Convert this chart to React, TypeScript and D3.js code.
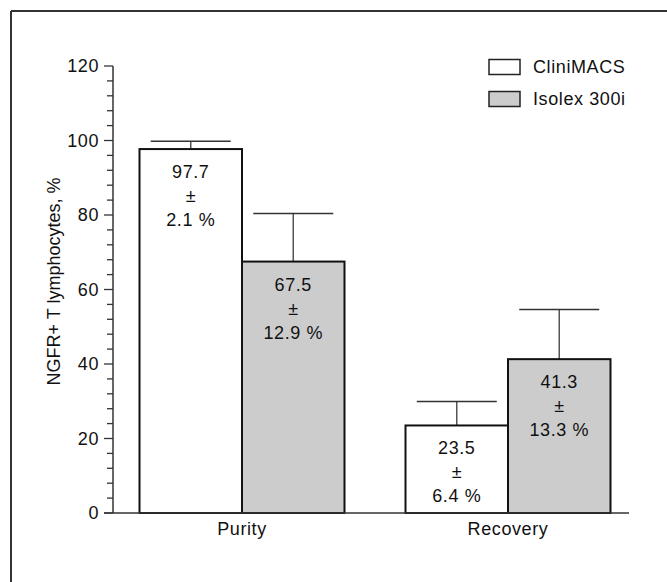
import React from "react";
import * as d3 from "d3";

const categories = ["Purity", "Recovery"];
const seriesNames = ["CliniMACS", "Isolex 300i"];
const cliniMeans = [97.7, 23.5];
const cliniSD = [2.1, 6.4];
const isolexMeans = [67.5, 41.3];
const isolexSD = [12.9, 13.3];
const yTicks = [0, 20, 40, 60, 80, 100, 120];
const yLabel = "NGFR+ T lymphocytes, %";

const W = 667;
const H = 582;
const FONT = "'Liberation Sans', Arial, Helvetica, sans-serif";
const FILLS = ["#ffffff", "#cccccc"];
const LS = 0.6;

export default function App() {
  const y = d3.scaleLinear().domain([0, 120]).range([513, 66]);
  const x0 = d3.scalePoint<string>().domain(categories).range([242, 508]);
  const x1 = d3.scaleBand<string>().domain(seriesNames).range([-102.5, 102.5]).padding(0);
  const minor = d3.range(0, 121, 4);
  const axisX = 113;

  const bars = categories.flatMap((c, i) => [
    { cat: c, s: seriesNames[0], v: cliniMeans[i], sd: cliniSD[i], fill: FILLS[0] },
    { cat: c, s: seriesNames[1], v: isolexMeans[i], sd: isolexSD[i], fill: FILLS[1] },
  ]);

  return (
    <svg
      width={W}
      height={H}
      style={{ position: "absolute", left: 0, top: 0, background: "#fff" }}
      fontFamily={FONT}
    >
      {/* frame */}
      <line x1={11} y1={11} x2={W} y2={11} stroke="#333" strokeWidth={2} />
      <line x1={11} y1={11} x2={11} y2={H} stroke="#333" strokeWidth={2} />

      {/* y axis */}
      <line x1={axisX} y1={y(120)} x2={axisX} y2={y(0)} stroke="#333" strokeWidth={1.5} />
      {minor.map((t) => (
        <line
          key={"m" + t}
          x1={axisX - (t % 20 === 0 ? 9 : 6)}
          x2={axisX}
          y1={y(t)}
          y2={y(t)}
          stroke="#333"
          strokeWidth={1.3}
        />
      ))}
      {yTicks.map((t) => (
        <text key={"t" + t} x={99} y={y(t)} textAnchor="end" dominantBaseline="central" fontSize={18} letterSpacing={LS} fill="#111">
          {t}
        </text>
      ))}
      <text
        transform={`translate(54,${(y(0) + y(120)) / 2 - 8}) rotate(-90)`}
        textAnchor="middle"
        dominantBaseline="central"
        fontSize={18}
        fill="#111"
      >
        {yLabel}
      </text>

      {/* bars */}
      {bars.map((b, i) => {
        const bx = (x0(b.cat) as number) + (x1(b.s) as number);
        const bw = x1.bandwidth();
        const cx = bx + bw / 2;
        const top = y(b.v);
        const eTop = y(b.v + b.sd);
        return (
          <g key={"b" + i}>
            <line x1={cx} x2={cx} y1={top} y2={eTop} stroke="#555" strokeWidth={1.5} />
            <line x1={cx - 40} x2={cx + 40} y1={eTop} y2={eTop} stroke="#333" strokeWidth={1.5} />
            <rect x={bx} y={top} width={bw} height={y(0) - top} fill={b.fill} stroke="#111" strokeWidth={2} />
            <text x={cx} y={top + 23} textAnchor="middle" dominantBaseline="central" fontSize={18} letterSpacing={LS} fill="#111">
              {b.v.toFixed(1)}
            </text>
            <text x={cx} y={top + 47} textAnchor="middle" dominantBaseline="central" fontSize={18} fill="#111">
              ±
            </text>
            <text x={cx} y={top + 71} textAnchor="middle" dominantBaseline="central" fontSize={18} letterSpacing={LS} fill="#111">
              {b.sd.toFixed(1) + " %"}
            </text>
          </g>
        );
      })}

      {/* x baseline */}
      <line x1={104} x2={629} y1={y(0)} y2={y(0)} stroke="#333" strokeWidth={1.5} />
      {categories.map((c) => (
        <text key={c} x={x0(c) as number} y={529} textAnchor="middle" dominantBaseline="central" fontSize={18} letterSpacing={LS} fill="#111">
          {c}
        </text>
      ))}

      {/* legend */}
      {seriesNames.map((s, i) => (
        <g key={s}>
          <rect x={489} y={59.5 + i * 32} width={31} height={15} fill={FILLS[i]} stroke="#222" strokeWidth={1.5} />
          <text x={533} y={67 + i * 32} dominantBaseline="central" fontSize={18} letterSpacing={LS} fill="#111">
            {s}
          </text>
        </g>
      ))}
    </svg>
  );
}
